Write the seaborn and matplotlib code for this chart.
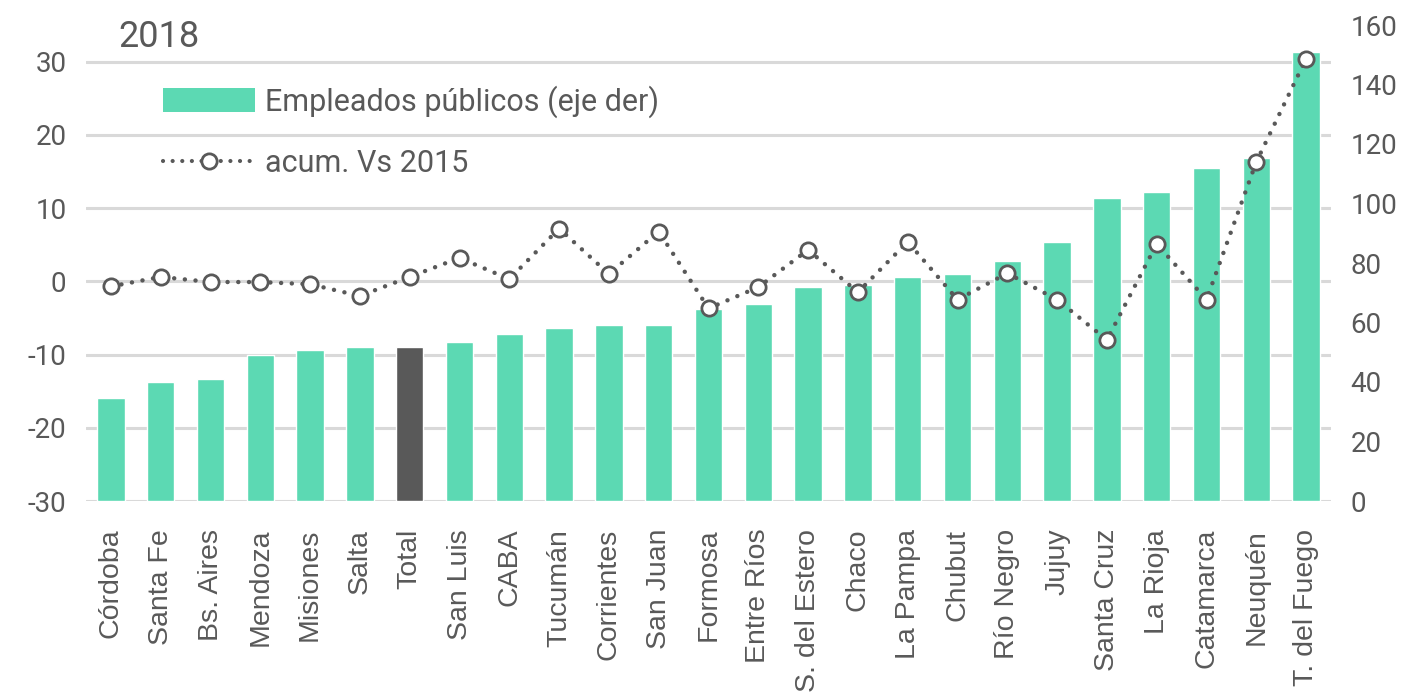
import matplotlib
matplotlib.use("Agg")
import matplotlib.pyplot as plt
import seaborn as sns
import numpy as np
import pandas as pd
from matplotlib.patches import Patch
from matplotlib.lines import Line2D

provincias = ["Córdoba", "Santa Fe", "Bs. Aires", "Mendoza", "Misiones", "Salta", "Total",
              "San Luis", "CABA", "Tucumán", "Corrientes", "San Juan", "Formosa", "Entre Ríos",
              "S. del Estero", "Chaco", "La Pampa", "Chubut", "Río Negro", "Jujuy",
              "Santa Cruz", "La Rioja", "Catamarca", "Neuquén", "T. del Fuego"]
empleados = [34.6, 40.0, 41.0, 49.2, 50.8, 51.9, 51.9, 53.6, 56.3, 58.2, 59.0, 59.0, 64.4,
             66.3, 71.8, 72.7, 75.3, 76.3, 80.8, 87.1, 102.0, 103.9, 111.9, 115.3, 150.9]
acum_vs_2015 = [-0.7, 0.6, -0.1, -0.1, -0.4, -2.0, 0.6, 3.2, 0.3, 7.2, 1.0, 6.8, -3.7,
                -0.8, 4.3, -1.5, 5.4, -2.5, 1.1, -2.5, -8.0, 5.1, -2.5, 16.3, 30.4]
left_ticks = [-30, -20, -10, 0, 10, 20, 30]
right_ticks = [0, 20, 40, 60, 80, 100, 120, 140, 160]

GREEN = "#5CD9B3"
DARK = "#595959"
GRID = "#D9D9D9"
TXT = "#595959"

sns.set_theme(style="white")
plt.rcParams["font.family"] = ["Roboto", "DejaVu Sans"]
plt.rcParams["axes.unicode_minus"] = False

df = pd.DataFrame({"prov": provincias, "emp": empleados, "acum": acum_vs_2015})
df["pos"] = np.arange(len(df))
colors = {p: (DARK if p == "Total" else GREEN) for p in provincias}

fig = plt.figure(figsize=(14.19, 7.0), dpi=100)
W, H = 1419, 700
x0, x1, ytop, ybot = 86, 1331, 25, 501
ax_grid = fig.add_axes([x0 / W, 1 - ybot / H, (x1 - x0) / W, (ybot - ytop) / H])
ax_bar = ax_grid.twinx()
ax_line = ax_grid.twinx()

# grid axis (left scale)
ax_grid.set_ylim(-30, 35)
ax_grid.set_yticks(left_ticks)
for v in left_ticks:
    ax_grid.axhline(v, color=GRID, lw=2.2, zorder=0)
ax_grid.tick_params(axis="y", left=False, labelsize=20, labelcolor=TXT, pad=8)

# bars (right scale)
sns.barplot(data=df, x="prov", y="emp", hue="prov", palette=colors, legend=False,
            width=0.55, saturation=1, ax=ax_bar)
ax_bar.set_ylim(0, 160)
ax_bar.set_yticks(right_ticks)
ax_bar.yaxis.tick_right()
ax_bar.tick_params(axis="y", right=False, labelsize=20, labelcolor=TXT, pad=8)
ax_bar.set_xlabel("")
ax_bar.set_ylabel("")

# line (left scale)
sns.lineplot(data=df, x="pos", y="acum", ax=ax_line, color=DARK, lw=3.2,
             linestyle=(0, (0.01, 2.4)), dash_capstyle="round",
             marker="o", markersize=11, markerfacecolor="white",
             markeredgecolor=DARK, markeredgewidth=2.0, zorder=5)
ax_line.set_ylim(-30, 35)
ax_line.set_yticks([])
ax_line.set_xlabel("")
ax_line.set_ylabel("")

for a in (ax_grid, ax_bar, ax_line):
    a.set_xlim(-0.5, len(provincias) - 0.5)
    for s in a.spines.values():
        s.set_visible(False)

ax_bar.xaxis.set_visible(False)
ax_line.xaxis.set_visible(False)
ax_grid.set_xticks(df["pos"])
ax_grid.set_xticklabels(provincias, rotation=90, fontsize=20.5, color=TXT,
                        family=["Liberation Sans", "DejaVu Sans"])
ax_grid.tick_params(axis="x", bottom=False, pad=14)
ax_grid.set_xlabel("")

# subtitle
fig.text(118 / W, 1 - 47 / H, "2018", fontsize=26, color=TXT, ha="left", va="baseline")

# legend
handles = [Patch(facecolor=GREEN, edgecolor="none"),
           Line2D([0], [0], color=DARK, lw=3.0, linestyle=(0, (0.01, 2.3)),
                  dash_capstyle="round", marker="o", markersize=11,
                  markerfacecolor="white", markeredgecolor=DARK, markeredgewidth=2.0)]
leg = fig.legend(handles, ["Empleados públicos (eje der)", "acum. Vs 2015"],
                 loc="upper left", bbox_to_anchor=(163 / W, 1 - 85 / H),
                 frameon=False, fontsize=22, handlelength=3.0, handleheight=0.85,
                 handletextpad=0.33, labelspacing=1.03, borderpad=0, borderaxespad=0)
for t in leg.get_texts():
    t.set_color(TXT)

fig.savefig("out.png", dpi=100)
